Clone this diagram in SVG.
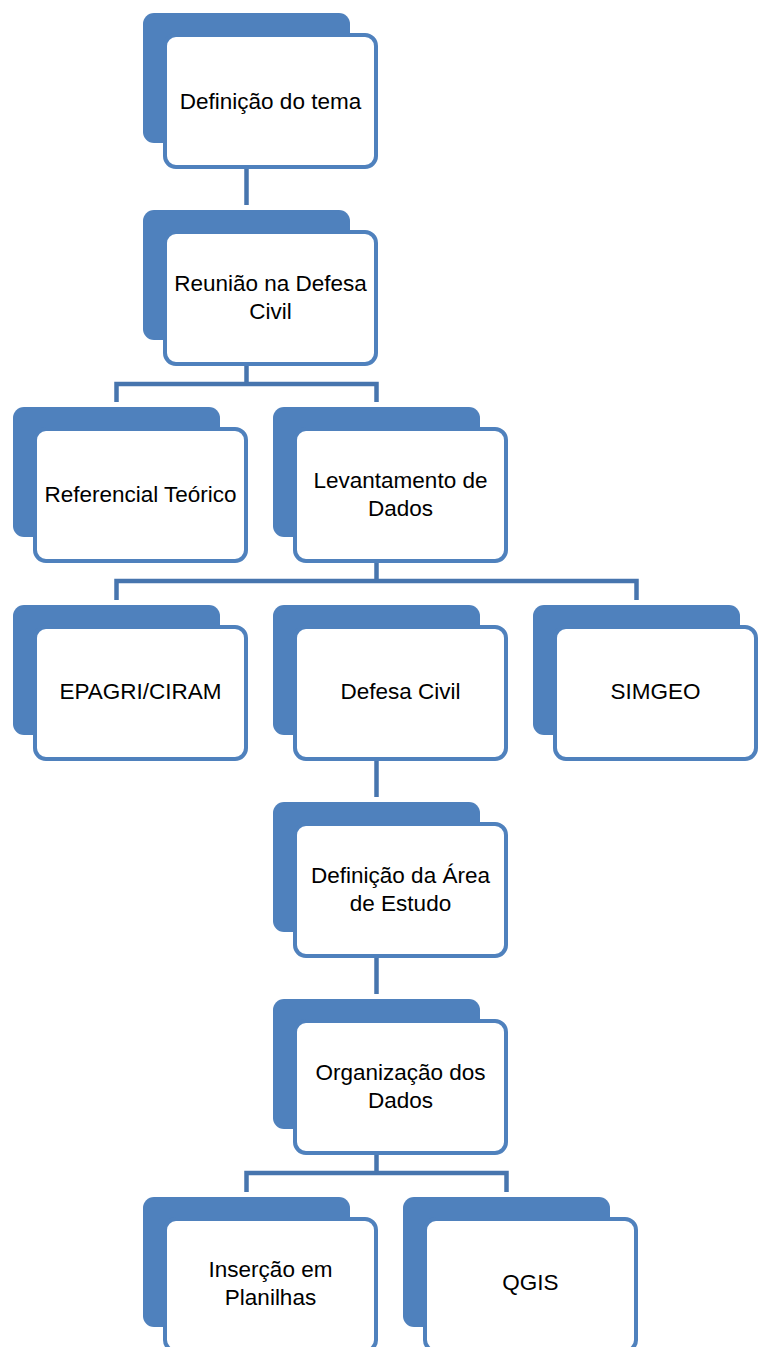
<svg xmlns="http://www.w3.org/2000/svg" width="759" height="1347" viewBox="0 0 759 1347">
<style>
.back{fill:#4F81BD;}
.front{fill:#FFFFFF;stroke:#4F81BD;stroke-width:4;}
.conn{fill:none;stroke:#4775AE;stroke-width:4.5;stroke-linejoin:miter;stroke-linecap:butt;}
.lbl{font-family:"Liberation Sans",Arial,sans-serif;font-size:22.5px;fill:#000;text-anchor:middle;}
</style>
<rect width="759" height="1347" fill="#FFFFFF"/>
<g id="connectors">
<path class="conn" d="M246.5,168 V205"/>
<path class="conn" d="M246.5,365 V384 M116.5,402 V384 H376.5 V402"/>
<path class="conn" d="M376.5,563 V581 M116.5,600 V581 H636.5 V600"/>
<path class="conn" d="M376.5,760 V797"/>
<path class="conn" d="M376.5,957 V994"/>
<path class="conn" d="M376.5,1154 V1173 M246.5,1192 V1173 H506.5 V1192"/>
</g>
<g id="n1">
<rect class="back" x="143" y="13" width="207" height="130" rx="11"/>
<rect class="front" x="165" y="35" width="211" height="132" rx="11"/>
<text class="lbl" x="270.5" y="108.5">Definição do tema</text>
</g>
<g id="n2">
<rect class="back" x="143" y="210" width="207" height="130" rx="11"/>
<rect class="front" x="165" y="232" width="211" height="132" rx="11"/>
<text class="lbl" x="270.5" y="291">Reunião na Defesa</text>
<text class="lbl" x="270.5" y="319">Civil</text>
</g>
<g id="n3">
<rect class="back" x="13" y="407" width="207" height="130" rx="11"/>
<rect class="front" x="35" y="429" width="211" height="132" rx="11"/>
<text class="lbl" x="140.5" y="502">Referencial Teórico</text>
</g>
<g id="n4">
<rect class="back" x="273" y="407" width="207" height="130" rx="11"/>
<rect class="front" x="295" y="429" width="211" height="132" rx="11"/>
<text class="lbl" x="400.5" y="488">Levantamento de</text>
<text class="lbl" x="400.5" y="516">Dados</text>
</g>
<g id="n5">
<rect class="back" x="13" y="605" width="207" height="130" rx="11"/>
<rect class="front" x="35" y="627" width="211" height="132" rx="11"/>
<text class="lbl" x="140.5" y="699">EPAGRI/CIRAM</text>
</g>
<g id="n6">
<rect class="back" x="273" y="605" width="207" height="130" rx="11"/>
<rect class="front" x="295" y="627" width="211" height="132" rx="11"/>
<text class="lbl" x="400.5" y="699">Defesa Civil</text>
</g>
<g id="n7">
<rect class="back" x="533" y="605" width="207" height="130" rx="11"/>
<rect class="front" x="555" y="627" width="201" height="132" rx="11"/>
<text class="lbl" x="655.5" y="699">SIMGEO</text>
</g>
<g id="n8">
<rect class="back" x="273" y="802" width="207" height="130" rx="11"/>
<rect class="front" x="295" y="824" width="211" height="132" rx="11"/>
<text class="lbl" x="400.5" y="883">Definição da Área</text>
<text class="lbl" x="400.5" y="911">de Estudo</text>
</g>
<g id="n9">
<rect class="back" x="273" y="999" width="207" height="130" rx="11"/>
<rect class="front" x="295" y="1021" width="211" height="132" rx="11"/>
<text class="lbl" x="400.5" y="1080">Organização dos</text>
<text class="lbl" x="400.5" y="1108">Dados</text>
</g>
<g id="n10">
<rect class="back" x="143" y="1197" width="207" height="130" rx="11"/>
<rect class="front" x="165" y="1219" width="211" height="132" rx="11"/>
<text class="lbl" x="270.5" y="1277">Inserção em</text>
<text class="lbl" x="270.5" y="1305">Planilhas</text>
</g>
<g id="n11">
<rect class="back" x="403" y="1197" width="207" height="130" rx="11"/>
<rect class="front" x="425" y="1219" width="211" height="132" rx="11"/>
<text class="lbl" x="530.5" y="1290">QGIS</text>
</g>
</svg>
